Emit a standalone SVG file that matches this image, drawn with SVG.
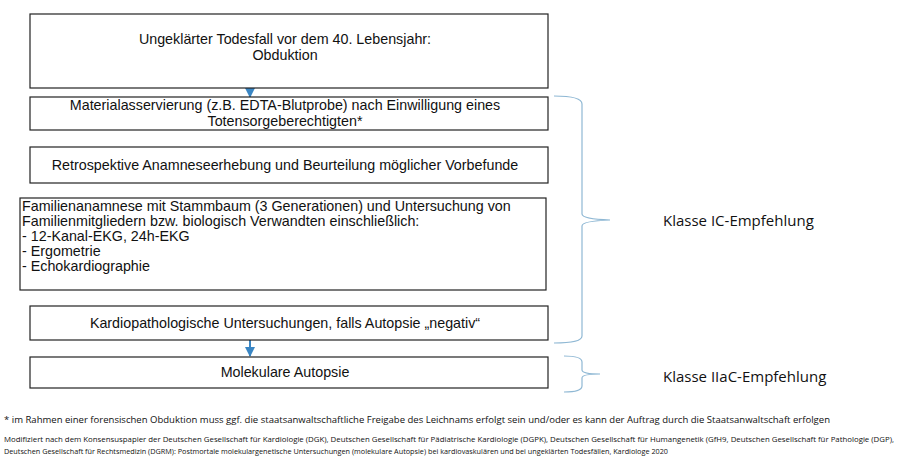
<svg xmlns="http://www.w3.org/2000/svg" width="900" height="464" viewBox="0 0 900 464">
<style>
.b{fill:#fff;stroke:#222;stroke-width:1.2}
.t{font-family:"Liberation Sans",Arial,sans-serif;font-size:14.3px;fill:#111}
.c{text-anchor:middle}
.br{fill:none;stroke:#8fb8d4;stroke-width:1.2}
.k{font-family:"Open Sans","Liberation Sans",sans-serif;font-size:15px;fill:#111}
.f{font-family:"Open Sans","Liberation Sans",sans-serif;fill:#111}
</style>
<defs><marker id="a" viewBox="0 0 10 10" refX="9" refY="5" markerWidth="5" markerHeight="5" orient="auto"><path d="M0,0L10,5L0,10z" fill="#3a86c4"/></marker></defs>
<rect width="900" height="464" fill="#fff"/>
<g id="connectors" stroke="#3a86c4" stroke-width="2" fill="none">
<line x1="250" y1="88" x2="250" y2="97" marker-end="url(#a)"/>
<line x1="250" y1="340" x2="250" y2="356" marker-end="url(#a)"/>
</g>
<g id="n1"><rect class="b" x="30" y="14" width="518" height="74"/><text class="t c" x="285" y="44">Ungeklärter Todesfall vor dem 40. Lebensjahr:</text><text class="t c" x="285" y="60">Obduktion</text></g>
<g id="n2"><rect class="b" x="30" y="97" width="518" height="33"/><text class="t c" x="285" y="110">Materialasservierung (z.B. EDTA-Blutprobe) nach Einwilligung eines</text><text class="t c" x="285" y="126">Totensorgeberechtigten*</text></g>
<g id="n3"><rect class="b" x="30" y="147" width="518" height="36"/><text class="t c" x="285" y="170">Retrospektive Anamneseerhebung und Beurteilung möglicher Vorbefunde</text></g>
<g id="n4"><rect class="b" x="20" y="198" width="526" height="92"/>
<text class="t" x="22" y="211">Familienanamnese mit Stammbaum (3 Generationen) und Untersuchung  von</text>
<text class="t" x="22" y="226">Familienmitgliedern bzw. biologisch Verwandten einschließlich:</text>
<text class="t" x="22" y="241">- 12-Kanal-EKG, 24h-EKG</text>
<text class="t" x="22" y="256">- Ergometrie</text>
<text class="t" x="22" y="271">- Echokardiographie</text></g>
<g id="n5"><rect class="b" x="30" y="306" width="518" height="34"/><text class="t c" x="285" y="328">Kardiopathologische Untersuchungen, falls Autopsie „negativ“</text></g>
<g id="n6"><rect class="b" x="30" y="357" width="518" height="31"/><text class="t c" x="285" y="377">Molekulare Autopsie</text></g>
<g id="braces">
<path class="br" d="M554,96 Q582,96 582,104 L582,214 Q582,219 610,220 Q582,221 582,226 L582,336 Q582,343 554,343"/>
<path class="br" d="M564,356 Q582,356 582,362 L582,370 Q582,374 600,374 Q582,374 582,378 L582,386 Q582,392 564,392"/>
</g>
<text class="k" x="663" y="226">Klasse IC-Empfehlung</text>
<text class="k" x="663" y="382">Klasse IIaC-Empfehlung</text>
<text class="f" x="4" y="423" font-size="8.5" textLength="826" lengthAdjust="spacingAndGlyphs">* im Rahmen einer forensischen Obduktion muss ggf. die staatsanwaltschaftliche Freigabe des Leichnams erfolgt sein und/oder es kann der Auftrag durch die Staatsanwaltschaft erfolgen</text>
<text class="f" x="4" y="442" font-size="7" textLength="890" lengthAdjust="spacingAndGlyphs">Modifiziert nach dem Konsensuspapier der Deutschen Gesellschaft für Kardiologie (DGK), Deutschen Gesellschaft für Pädiatrische Kardiologie (DGPK), Deutschen Gesellschaft für Humangenetik (GfH9, Deutschen Gesellschaft für Pathologie (DGP),</text>
<text class="f" x="4" y="454" font-size="7" textLength="664" lengthAdjust="spacingAndGlyphs">Deutschen Gesellschaft für Rechtsmedizin (DGRM): Postmortale molekulargenetische Untersuchungen (molekulare Autopsie) bei kardiovaskulären und bei ungeklärten Todesfällen, Kardiologe 2020</text>
</svg>
